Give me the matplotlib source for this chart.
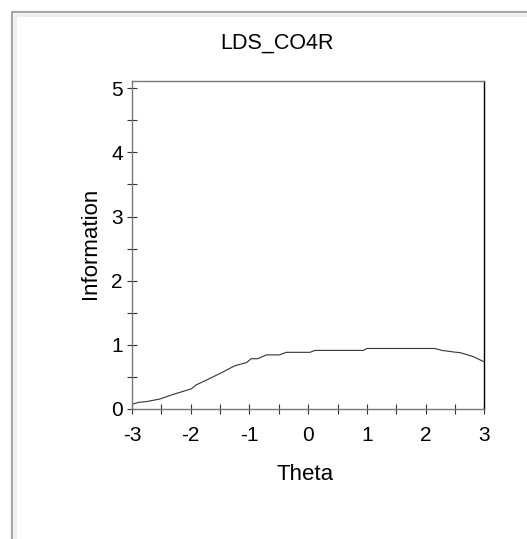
import matplotlib
matplotlib.use("Agg")
import matplotlib.pyplot as plt
from matplotlib.lines import Line2D
from matplotlib.ticker import MultipleLocator

plt.rcParams['font.family'] = ['Liberation Sans', 'DejaVu Sans']
plt.rcParams['axes.unicode_minus'] = False

# information curve
theta = [-3.00, -2.88, -2.76, -2.53, -2.31, -1.99, -1.91, -1.68, -1.48, -1.25, -1.05,
         -0.97, -0.86, -0.71, -0.49, -0.37, 0.03, 0.12, 0.94, 1.00, 2.16, 2.28,
         2.48, 2.59, 2.82, 3.00]
info = [0.07, 0.10, 0.11, 0.15, 0.22, 0.31, 0.37, 0.47, 0.56, 0.67, 0.72,
        0.78, 0.78, 0.84, 0.84, 0.88, 0.88, 0.91, 0.91, 0.94, 0.94, 0.91,
        0.885, 0.875, 0.81, 0.73]

W, H = 527, 539
fig = plt.figure(figsize=(W / 100, H / 100), dpi=100)

# outer panel frame (gray line + light inner line)
fig.add_artist(Line2D([12 / W, 12 / W, 1.0], [0.0, 1 - 12 / H, 1 - 12 / H],
                      transform=fig.transFigure, color='#a6a6a6', lw=1.6))
fig.add_artist(Line2D([14.5 / W, 14.5 / W, 1.0], [0.0, 1 - 14.5 / H, 1 - 14.5 / H],
                      transform=fig.transFigure, color='#eeeeee', lw=2.0))

ax = fig.add_axes([132 / W, 1 - 408.7 / H, (484.3 - 132) / W, (408.7 - 80.7) / H])
ax.plot(theta, info, color='#333333', lw=0.8)

ax.set_xlim(-3, 3)
ax.set_ylim(0, 5.12)
ax.xaxis.set_major_locator(MultipleLocator(1))
ax.xaxis.set_minor_locator(MultipleLocator(0.5))
ax.yaxis.set_major_locator(MultipleLocator(1))
ax.yaxis.set_minor_locator(MultipleLocator(0.5))
ax.tick_params(which='both', direction='inout', length=7, width=0.8, color='#333333',
               labelsize=15)
ax.tick_params(axis='x', pad=9)
ax.tick_params(axis='y', pad=3)

for side in ['left', 'top', 'bottom']:
    ax.spines[side].set_color('#777777')
ax.spines['right'].set_color('black')
for s in ax.spines.values():
    s.set_linewidth(1.0)

ax.set_xlabel('Theta', fontsize=16)
ax.set_ylabel('Information', fontsize=16)
ax.xaxis.set_label_coords(305 / W, 1 - 474 / H, transform=fig.transFigure)
ax.yaxis.set_label_coords(90 / W, 1 - 243.5 / H, transform=fig.transFigure)
ax.xaxis.label.set_va('center')
ax.yaxis.label.set_va('center')
fig.text(277 / W, 1 - 43 / H, 'LDS_CO4R', ha='center', va='center', fontsize=15.5)

fig.savefig('out.png', dpi=100)
